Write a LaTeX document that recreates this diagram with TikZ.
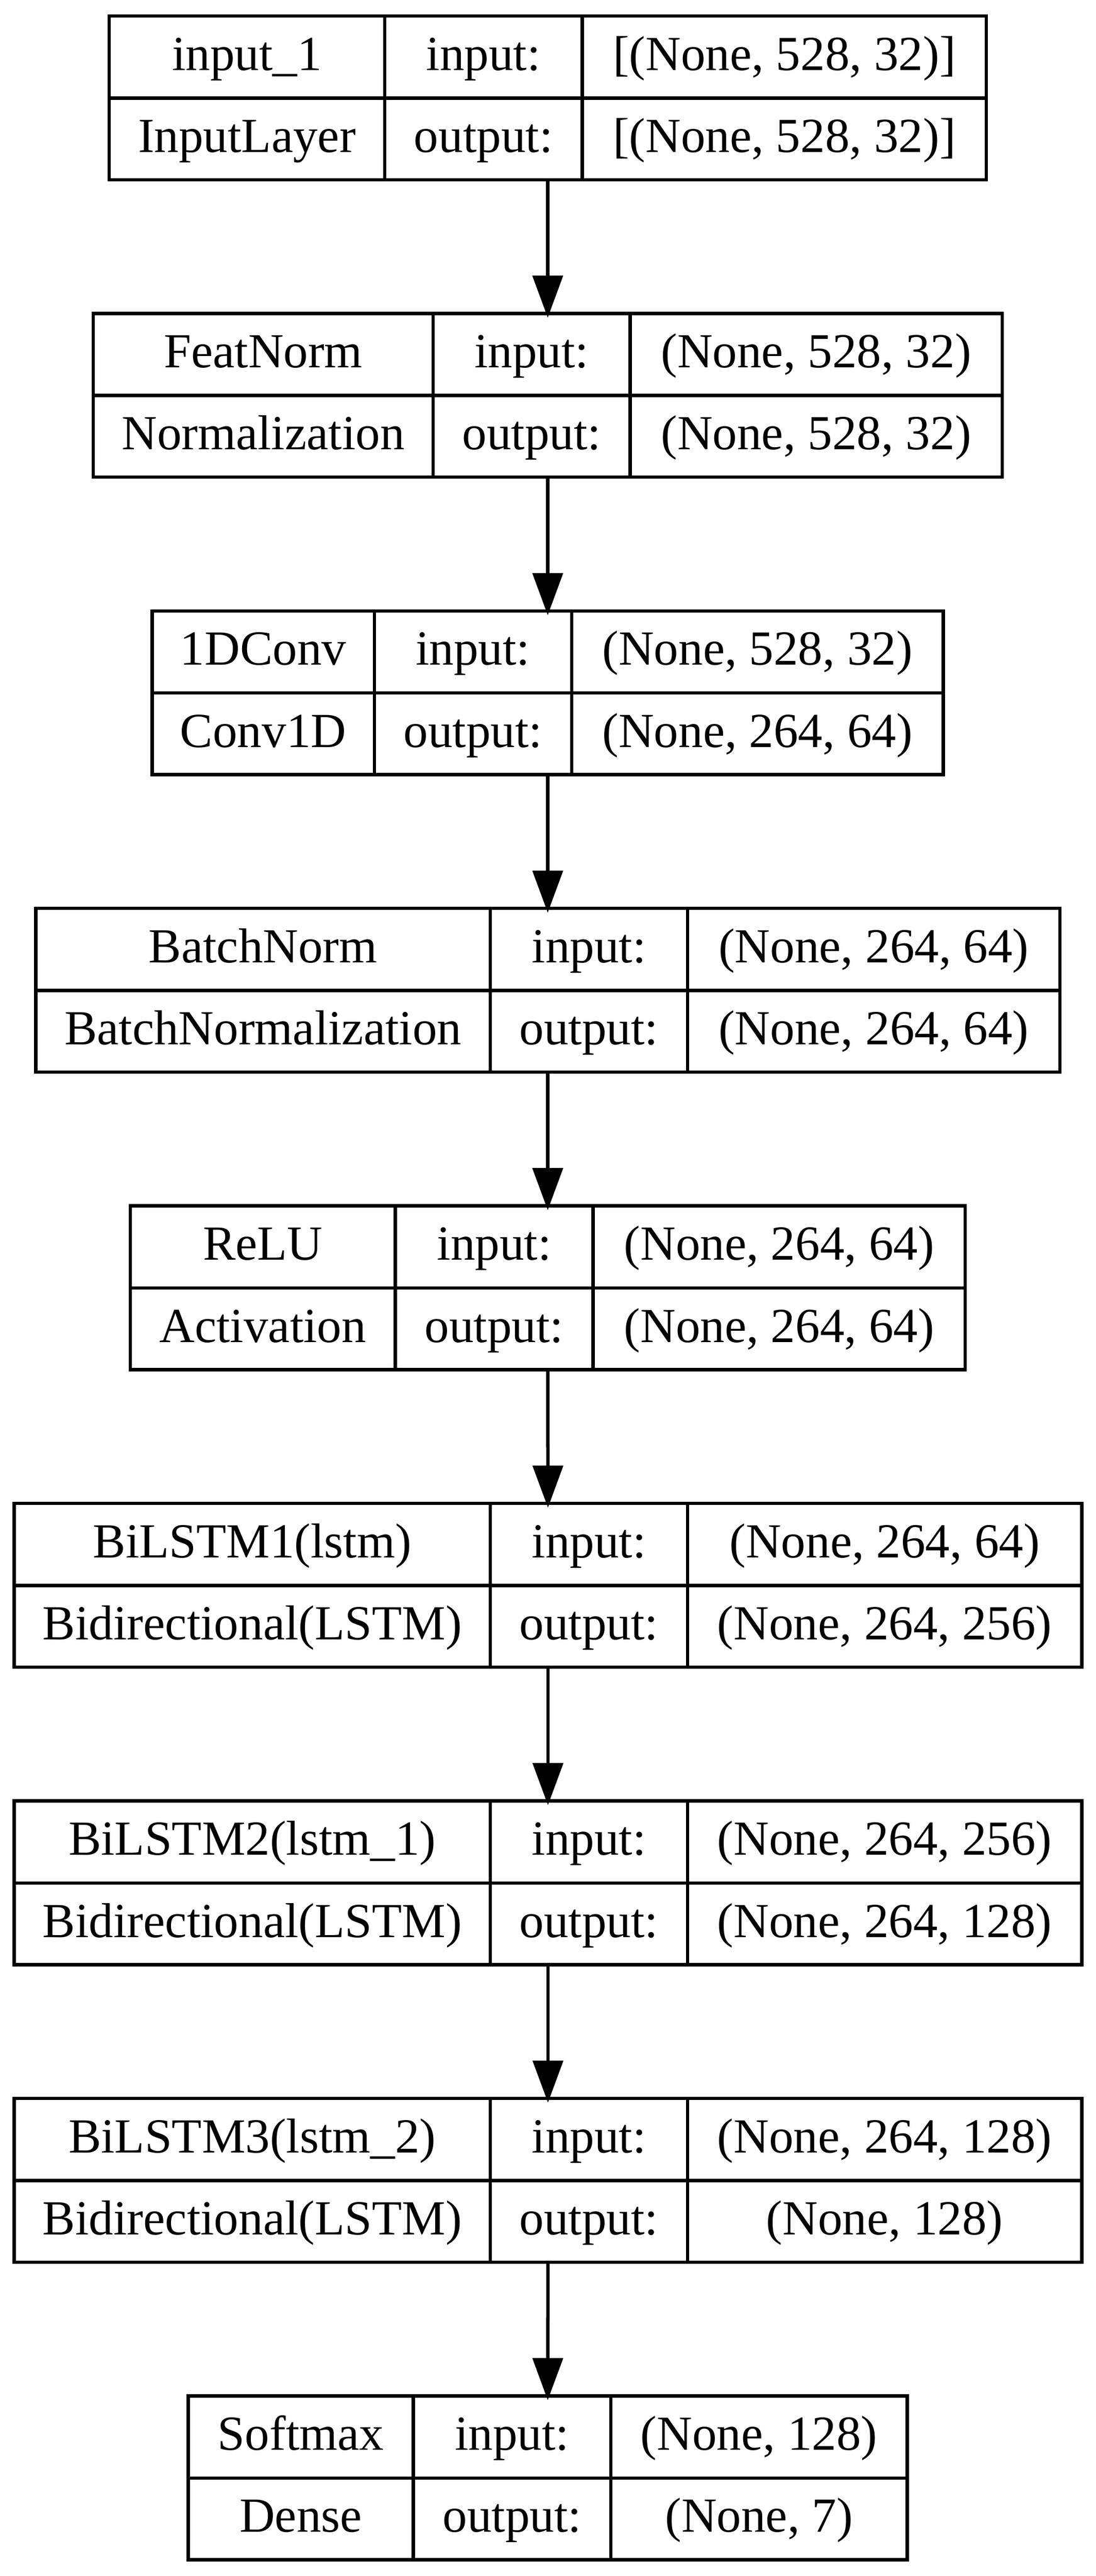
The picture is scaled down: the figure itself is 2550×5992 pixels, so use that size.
\documentclass[tikz,border=0pt]{standalone}
\usepackage{fontspec}
\setmainfont{Liberation Serif}
\usetikzlibrary{arrows.meta}
\newcommand\layerbox[6]{% name, top, left, div1, div2, right
  \pgfmathsetmacro\lw{(#6-#3)*0.1}%
  \def\lN{#1}\def\lT{#2}\def\lL{#3}\def\lA{#4}\def\lB{#5}\def\lR{#6}%
  \node[layer, minimum width=\lw pt] (#1) at (#3,#2) {};
  \draw[rule] (#4,#2) -- (#4,#2+381);
  \draw[rule] (#5,#2) -- (#5,#2+381);
  \draw[rule] (#3,#2+191) -- (#6,#2+191);
}
\newcommand\layertext[4]{% name label, class label, input shape, output shape
  \node[txt] (\lN-name)  at ({(\lL+\lA)/2}, \lT+126) {#1};
  \node[txt] (\lN-class) at ({(\lL+\lA)/2}, \lT+317) {#2};
  \node[txt] (\lN-inl)   at ({(\lA+\lB)/2}, \lT+126) {input:};
  \node[txt] (\lN-outl)  at ({(\lA+\lB)/2}, \lT+317) {output:};
  \node[txt] (\lN-ins)   at ({(\lB+\lR)/2}, \lT+126) {#3};
  \node[txt] (\lN-outs)  at ({(\lB+\lR)/2}, \lT+317) {#4};
}
\begin{document}
\begin{tikzpicture}[x=0.1pt,y=-0.1pt,
  layer/.style={draw=black, line width=0.78pt, fill=white, rectangle, inner sep=0pt, outer sep=0pt, anchor=north west, minimum height=38.1pt},
  rule/.style={draw=black, line width=0.78pt},
  txt/.style={anchor=base, inner sep=0pt, font=\fontsize{11.4pt}{13pt}\selectfont},
  arr/.style={draw=black, line width=0.78pt, -{Triangle[length=9.8pt,width=7pt]}, shorten >=-1pt}
]
\fill[white] (0,0) rectangle (2550,5992);
\useasboundingbox (0,0) rectangle (2550,5992);

\layerbox{b1}{37}{254}{895}{1355}{2295}
\layertext{input\_1}{InputLayer}{[(None, 528, 32)]}{[(None, 528, 32)]}

\layerbox{b2}{729}{217}{1008}{1466}{2332}
\layertext{FeatNorm}{Normalization}{(None, 528, 32)}{(None, 528, 32)}

\layerbox{b3}{1421}{354}{871}{1330}{2195}
\layertext{1DConv}{Conv1D}{(None, 528, 32)}{(None, 264, 64)}

\layerbox{b4}{2113}{83}{1141}{1600}{2466}
\layertext{BatchNorm}{BatchNormalization}{(None, 264, 64)}{(None, 264, 64)}

\layerbox{b5}{2805}{303}{920}{1380}{2246}
\layertext{ReLU}{Activation}{(None, 264, 64)}{(None, 264, 64)}

\layerbox{b6}{3497}{33}{1141}{1600}{2517}
\layertext{BiLSTM1(lstm)}{Bidirectional(LSTM)}{(None, 264, 64)}{(None, 264, 256)}

\layerbox{b7}{4189}{33}{1141}{1600}{2517}
\layertext{BiLSTM2(lstm\_1)}{Bidirectional(LSTM)}{(None, 264, 256)}{(None, 264, 128)}

\layerbox{b8}{4881}{33}{1141}{1600}{2517}
\layertext{BiLSTM3(lstm\_2)}{Bidirectional(LSTM)}{(None, 264, 128)}{(None, 128)}

\layerbox{b9}{5573}{438}{962}{1421}{2111}
\layertext{Softmax}{Dense}{(None, 128)}{(None, 7)}

\draw[arr] (b1.south) -- (b2.north);
\draw[arr] (b2.south) -- (b3.north);
\draw[arr] (b3.south) -- (b4.north);
\draw[arr] (b4.south) -- (b5.north);
\draw[arr] (b5.south) -- (b6.north);
\draw[arr] (b6.south) -- (b7.north);
\draw[arr] (b7.south) -- (b8.north);
\draw[arr] (b8.south) -- (b9.north);
\end{tikzpicture}
\end{document}
